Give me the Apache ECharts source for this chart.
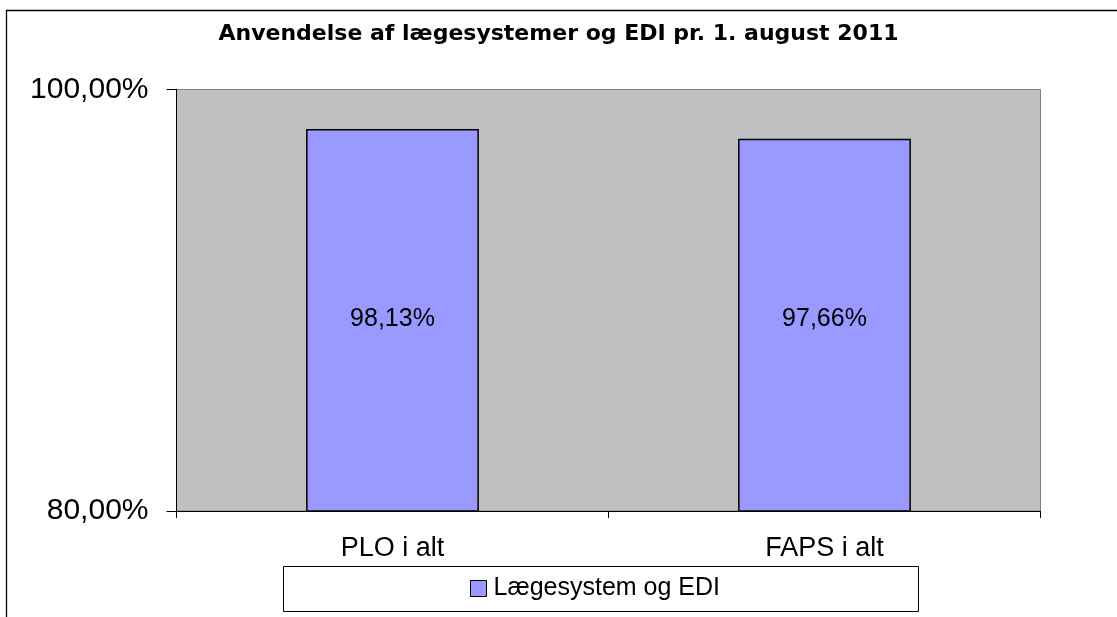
<!DOCTYPE html>
<html>
<head>
<meta charset="utf-8">
<script src="https://cdn.jsdelivr.net/npm/echarts@6/dist/echarts.min.js"></script>
<style>
html,body{margin:0;padding:0;background:#fff;}
#chart{width:1117px;height:617px;}
</style>
</head>
<body>
<div id="chart"></div>
<script>
const titleText = 'Anvendelse af lægesystemer og EDI pr. 1. august 2011';
const categories = ['PLO i alt', 'FAPS i alt'];
const seriesName = 'Lægesystem og EDI';
const values = [98.13, 97.66];
const yMin = 80, yMax = 100, yInterval = 20;

const fmt = v => v.toFixed(2).replace('.', ',') + '%';
const font = 'Liberation Sans';

const chart = echarts.init(document.getElementById('chart'), null, {renderer: 'canvas'});
chart.setOption({
  backgroundColor: '#ffffff',
  animation: false,
  title: {
    text: titleText,
    left: 'center',
    top: 18,
    textStyle: {fontFamily: 'DejaVu Sans', fontWeight: 'bold', fontSize: 22, color: '#000'}
  },
  graphic: [
    {type: 'rect', shape: {x: 6.5, y: 10.5, width: 1200, height: 700}, style: {fill: 'none', stroke: '#000', lineWidth: 1.3}, silent: true, z: 100},
    {type: 'rect', shape: {x: 283.5, y: 566.5, width: 635, height: 45}, style: {fill: '#fff', stroke: '#000', lineWidth: 1}, silent: true, z: 0}
  ],
  legend: {
    data: [seriesName],
    left: 470,
    top: 576,
    padding: 0,
    itemWidth: 16,
    itemHeight: 16,
    itemGap: 0,
    icon: 'rect',
    itemStyle: {borderColor: '#000', borderWidth: 1},
    textStyle: {fontFamily: font, fontSize: 25, color: '#000', padding: [0, 0, 0, 2]},
    z: 10
  },
  grid: {
    left: 176.5, right: 76.5, top: 89.5, bottom: 106,
    show: true, backgroundColor: '#c0c0c0', borderColor: '#808080', borderWidth: 1
  },
  xAxis: {
    type: 'category',
    data: categories,
    axisLine: {show: true, lineStyle: {color: '#000', width: 1}},
    axisTick: {show: true, length: 7, lineStyle: {color: '#000'}},
    axisLabel: {fontFamily: font, fontSize: 27, color: '#000', margin: 24}
  },
  yAxis: {
    type: 'value',
    min: yMin, max: yMax, interval: yInterval,
    axisLine: {show: true, lineStyle: {color: '#000', width: 1}},
    axisTick: {show: true, length: 10, lineStyle: {color: '#000'}},
    splitLine: {show: false},
    axisLabel: {fontFamily: font, fontSize: 30, color: '#000', margin: 28, formatter: v => fmt(v)}
  },
  series: [{
    name: seriesName,
    type: 'bar',
    data: values,
    barCategoryGap: '60%',
    itemStyle: {color: '#9999ff', borderColor: '#000', borderWidth: 1.5},
    label: {
      show: true, position: 'insideBottom', distance: 180,
      fontFamily: font, fontSize: 25, color: '#000',
      formatter: p => fmt(p.value)
    }
  }]
});
</script>
</body>
</html>
